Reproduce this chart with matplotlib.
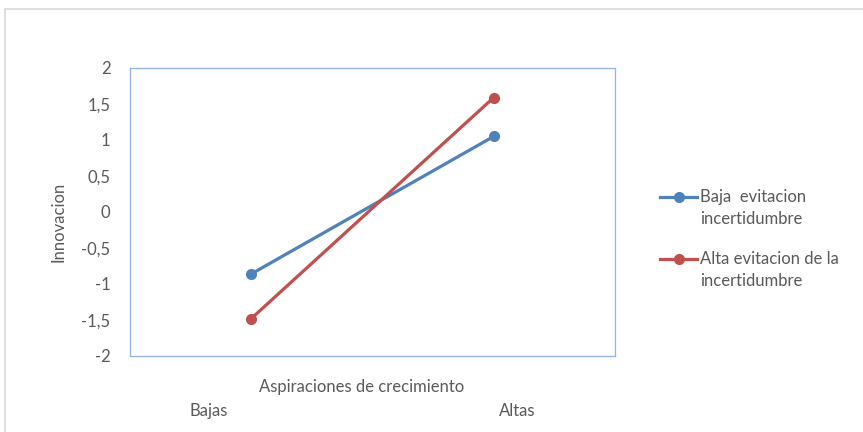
import matplotlib
matplotlib.use("Agg")
import matplotlib.pyplot as plt
from matplotlib.patches import Rectangle
from matplotlib.lines import Line2D

plt.rcParams['font.family'] = ['Lato', 'DejaVu Sans']

categories = ["Bajas", "Altas"]
series_names = ["Baja  evitacion\nincertidumbre", "Alta evitacion de la\nincertidumbre"]
baja_vals = [-0.86, 1.05]
alta_vals = [-1.48, 1.59]
yticks = [-2, -1.5, -1, -0.5, 0, 0.5, 1, 1.5, 2]
ytick_labels = ["-2", "-1,5", "-1", "-0,5", "0", "0,5", "1", "1,5", "2"]

W, H = 863, 432
fig = plt.figure(figsize=(W / 100, H / 100), dpi=100)
ax = fig.add_axes([130 / W, 1 - 356 / H, (615 - 130) / W, (356 - 68) / H])

blue = "#4F81BD"
red = "#C0504D"
txt = "#595959"
fs = 12

x = list(range(len(categories)))
ax.plot(x, baja_vals, color=blue, lw=2.3, marker="o", ms=7)
ax.plot(x, alta_vals, color=red, lw=2.3, marker="o", ms=7)

ax.set_xlim(-0.5, 1.5)
ax.set_ylim(-2, 2)
ax.set_yticks(yticks)
ax.set_yticklabels(ytick_labels, color=txt, fontsize=fs)
ax.tick_params(axis="y", length=0, pad=14)
ax.set_xticks([])
for s in ax.spines.values():
    s.set_color("#8EB4E3")
    s.set_linewidth(0.9)

fig.text(58 / W, 1 - 222 / H, "Innovacion", rotation=90, ha="center", va="center",
         color=txt, fontsize=fs)
fig.text(362 / W, 1 - 387 / H, "Aspiraciones de crecimiento", ha="center", va="center",
         color=txt, fontsize=fs)
fig.text(209 / W, 1 - 411 / H, categories[0], ha="center", va="center", color=txt, fontsize=fs)
fig.text(517 / W, 1 - 411 / H, categories[1], ha="center", va="center", color=txt, fontsize=fs)

# legend
for name, col, yk in [(series_names[0], blue, 197), (series_names[1], red, 259)]:
    yf = 1 - yk / H
    fig.add_artist(Line2D([660 / W, 697 / W], [yf, yf], transform=fig.transFigure,
                          color=col, lw=2.3))
    fig.add_artist(Line2D([679 / W], [yf], transform=fig.transFigure, color=col,
                          marker="o", ms=7, lw=0))
    fig.text(700 / W, 1 - (yk - 8) / H, name, ha="left", va="top", color=txt,
             fontsize=fs, linespacing=1.45)

fig.add_artist(Rectangle((4.5 / W, -0.1), 1.2, 1 - 9.5 / H + 0.1, transform=fig.transFigure,
                         fill=False, edgecolor="#D9D9D9", lw=1.2))

fig.savefig("out.png", dpi=100)
